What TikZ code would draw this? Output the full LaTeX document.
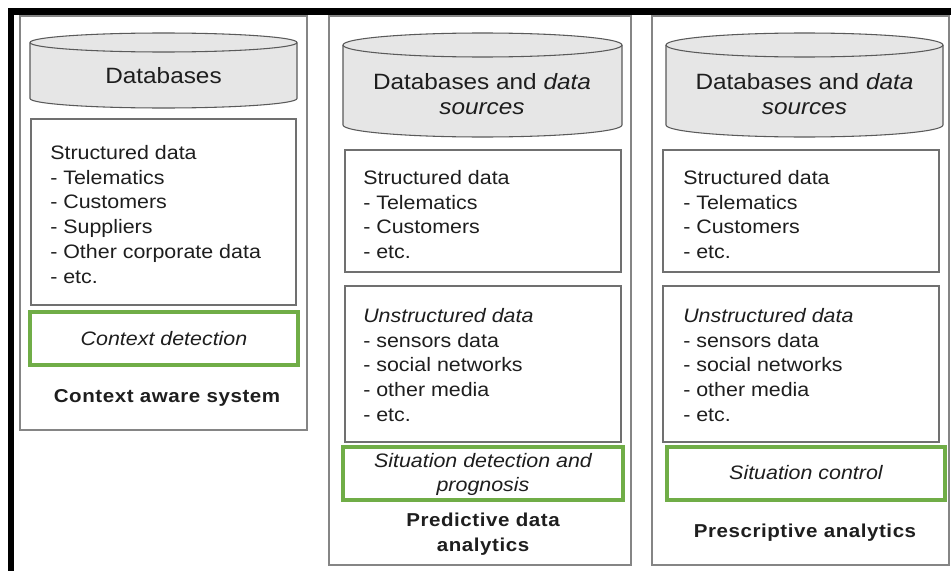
\documentclass[tikz,border=0pt]{standalone}
\usepackage{fontspec}
\setmainfont{Liberation Sans}[FakeStretch=1.1, BoldFeatures={LetterSpace=3}]
\usetikzlibrary{fit}

\definecolor{framegray}{HTML}{858585}
\definecolor{boxgray}{HTML}{707070}
\definecolor{drumfill}{HTML}{E6E6E6}
\definecolor{drumline}{HTML}{5A5A5A}
\definecolor{okgreen}{HTML}{70AD47}
\definecolor{ink}{HTML}{1E1E1E}

% database drum: left x, right x, top-centre y, bottom-centre y, half-height (px)
\newcommand\drum[5]{%
  \pgfmathsetmacro\drumrx{(#2-#1)/2*0.75}%
  \pgfmathsetmacro\drumry{#5*0.75}%
  \pgfmathsetmacro\drumcx{(#1+#2)/2}%
  \fill[drumfill] (#1,#3) -- (#1,#4)
    arc[start angle=180, end angle=360, x radius=\drumrx pt, y radius=\drumry pt]
    -- (#2,#3) -- cycle;
  \draw[drumline, line width=0.8pt] (#1,#3) -- (#1,#4)
    arc[start angle=180, end angle=360, x radius=\drumrx pt, y radius=\drumry pt]
    -- (#2,#3);
  \draw[drumline, line width=0.8pt, fill=drumfill] (\drumcx,#3)
    ellipse[x radius=\drumrx pt, y radius=\drumry pt];
}

\tikzset{
  frame/.style={draw=framegray, line width=1.1pt, inner sep=0pt},
  inbox/.style={draw=boxgray, line width=1.1pt, inner sep=0pt},
  greenbox/.style={draw=okgreen, line width=2.3pt, inner sep=0pt},
  txt/.style={text=ink, inner sep=0pt, font=\fontsize{14.6pt}{18.6pt}\selectfont},
  listtxt/.style={txt, align=left, anchor=north west},
  midtxt/.style={txt, align=center},
  drumtxt/.style={text=ink, inner sep=0pt, align=center,
    font=\fontsize{16.6pt}{18.8pt}\selectfont},
  headtxt/.style={text=ink, inner sep=0pt, align=center,
    font=\fontsize{14pt}{18.8pt}\selectfont\bfseries},
}

\begin{document}
\begin{tikzpicture}[x=0.75pt, y=-0.75pt]
  \fill[white] (0,0) rectangle (951,571);
  \useasboundingbox (0,0) rectangle (951,571);

  % heavy black edge along the top and left
  \fill[black] (8,8) rectangle (951,15);
  \fill[black] (8,8) rectangle (14,571);

  % ---------- column 1 ----------
  \node[frame, fit={(20,16) (307,430)}] (p1) {};
  \drum{30}{297}{42.5}{98.5}{9.5}
  \node[drumtxt] (db1) at (163.5,76) {Databases};
  \node[inbox, fit={(31,119) (296,305)}] (s1) {};
  \node[listtxt] (s1t) at (50,145)
    {Structured data\\- Telematics\\- Customers\\- Suppliers\\- Other corporate data\\- etc.};
  \node[greenbox, fit={(30,312) (298,365)}] (g1) {};
  \node[midtxt] (g1t) at (164,339) {\itshape Context detection};
  \node[headtxt] (h1) at (167,398) {Context aware system};

  % ---------- column 2 ----------
  \node[frame, fit={(329,16) (631,565)}] (p2) {};
  \drum{343}{622}{45}{125}{12}
  \node[drumtxt] (db2) at (482,94.5) {Databases and \textit{data}\\\textit{sources}};
  \node[inbox, fit={(345,150) (621,272)}] (s2) {};
  \node[listtxt] (s2t) at (363,170)
    {Structured data\\- Telematics\\- Customers\\- etc.};
  \node[inbox, fit={(345,286) (621,442)}] (u2) {};
  \node[listtxt] (u2t) at (363,308)
    {\textit{Unstructured data}\\- sensors data\\- social networks\\- other media\\- etc.};
  \node[greenbox, fit={(343,447) (623,500)}] (g2) {};
  \node[midtxt] (g2t) at (483,474.5) {\itshape Situation detection and\\\itshape prognosis};
  \node[headtxt] (h2) at (483,534.5) {Predictive data\\analytics};

  % ---------- column 3 ----------
  \node[frame, fit={(652,16) (949,565)}] (p3) {};
  \drum{666}{943}{45}{125}{12}
  \node[drumtxt] (db3) at (804.5,94.5) {Databases and \textit{data}\\\textit{sources}};
  \node[inbox, fit={(663,150) (939,272)}] (s3) {};
  \node[listtxt] (s3t) at (683,170)
    {Structured data\\- Telematics\\- Customers\\- etc.};
  \node[inbox, fit={(663,286) (939,442)}] (u3) {};
  \node[listtxt] (u3t) at (683,308)
    {\textit{Unstructured data}\\- sensors data\\- social networks\\- other media\\- etc.};
  \node[greenbox, fit={(667,447) (945,500)}] (g3) {};
  \node[midtxt] (g3t) at (806,473) {\itshape Situation control};
  \node[headtxt] (h3) at (805,533) {Prescriptive analytics};
\end{tikzpicture}
\end{document}
